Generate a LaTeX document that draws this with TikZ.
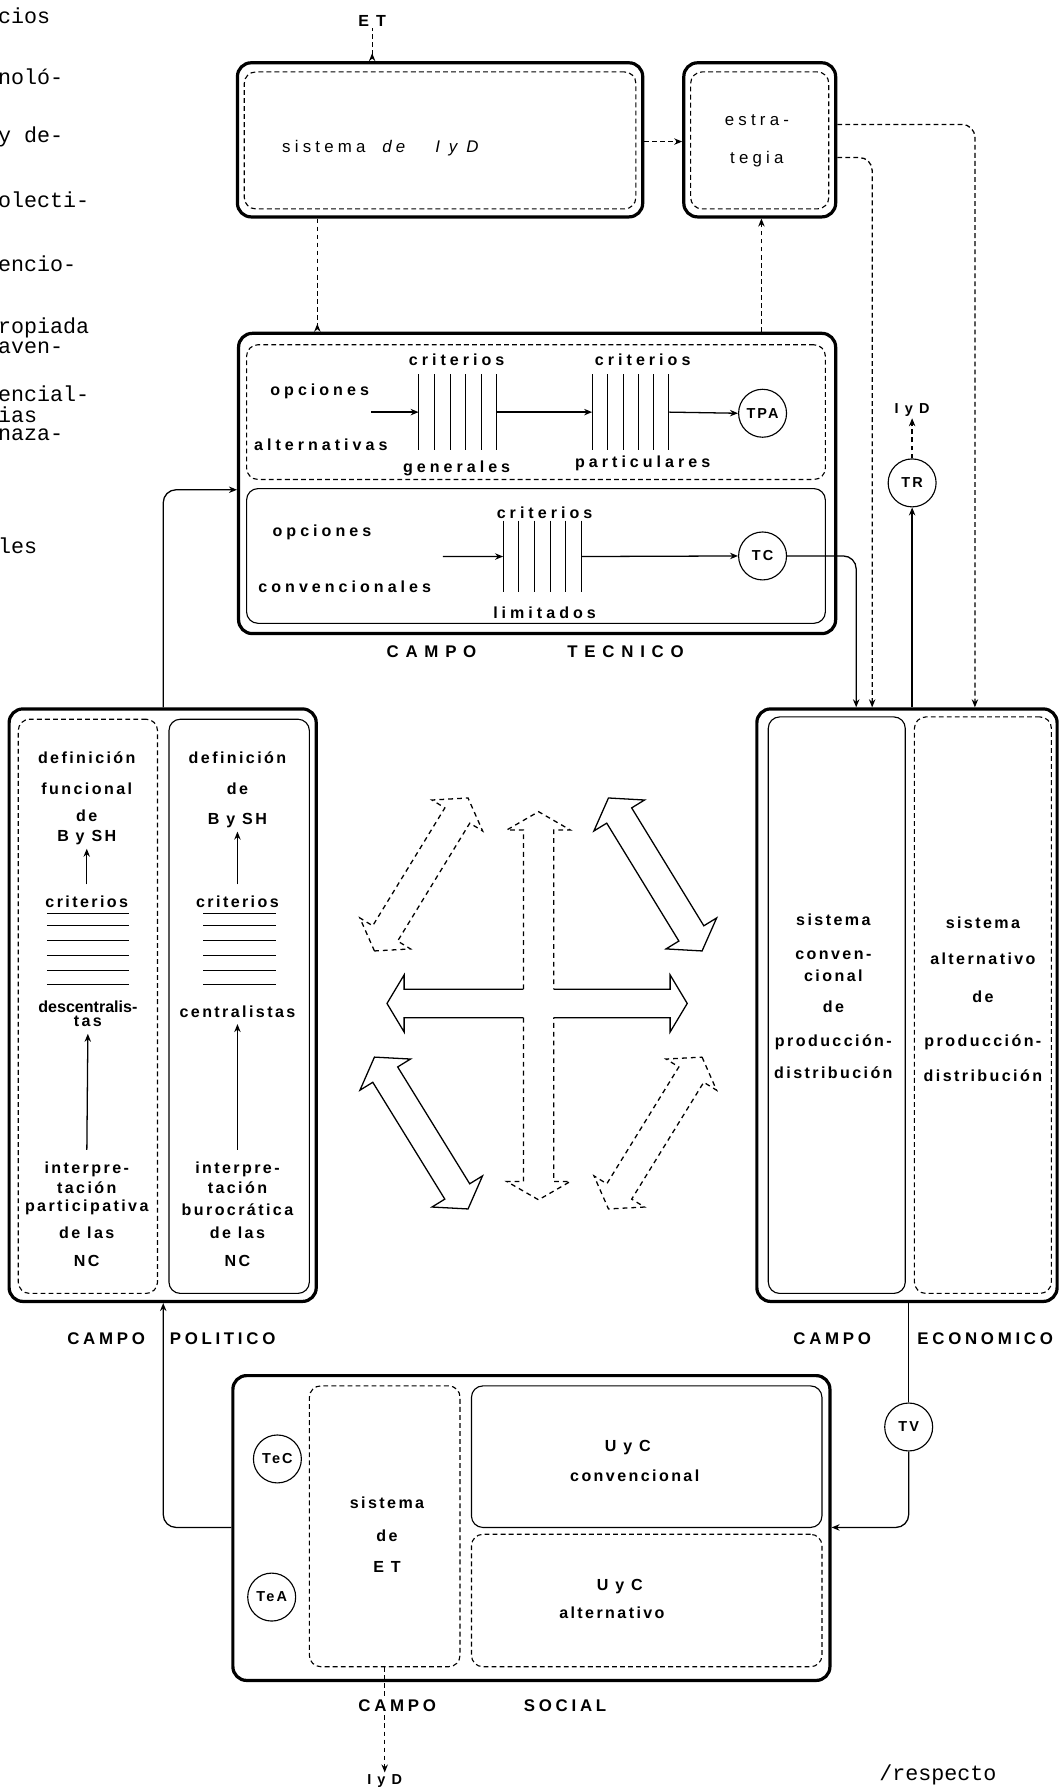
\documentclass[tikz,border=0pt]{standalone}
\usepackage{fontspec}
\setmainfont{Liberation Sans}
\newfontfamily\lblfont[LetterSpace=15]{Liberation Sans}
\newfontfamily\widefont[LetterSpace=25]{Liberation Sans}
\newfontfamily\capsfont[LetterSpace=22]{Liberation Sans}
\newfontfamily\widecaps[LetterSpace=40]{Liberation Sans}
\newfontfamily\typefont{Liberation Mono}
\usetikzlibrary{arrows.meta,calc,fit,positioning}

\tikzset{
  outerbox/.style={draw,line width=2pt,rounded corners=3mm,inner sep=0pt},
  innerbox/.style={draw,line width=.7pt,rounded corners=2.5mm,inner sep=0pt},
  innerdash/.style={innerbox,dash pattern=on 3pt off 2pt},
  sline/.style={line width=.8pt},
  dline/.style={line width=.8pt,dash pattern=on 3pt off 2pt},
  tip/.style={-{Stealth[length=5pt,width=4pt]}},
  lbl/.style={font=\lblfont\bfseries\fontsize{10}{11}\selectfont,inner sep=1pt},
  tlbl/.style={font=\widefont\bfseries\fontsize{10}{11}\selectfont,inner sep=1pt},
  caps/.style={font=\capsfont\bfseries\fontsize{10.5}{12}\selectfont,inner sep=1pt},
  tcaps/.style={font=\widecaps\bfseries\fontsize{10.5}{12}\selectfont,inner sep=1pt},
  circ/.style={draw,circle,line width=.7pt,minimum size=1.05cm,inner sep=0pt,
    font=\lblfont\bfseries\fontsize{9}{10}\selectfont},
  pagetext/.style={font=\typefont\fontsize{13.5}{14}\selectfont,anchor=west,inner sep=0pt},
  bar/.style={line width=.6pt},
  blockarr/.style={line width=.8pt},
  blockdash/.style={line width=.8pt,dash pattern=on 3pt off 2.5pt},
}

% double headed block arrow between two named coordinates
\newcommand{\arrhl}{0.45cm}
\newcommand{\arrhw}{0.65cm}
\newcommand{\arrsw}{0.32cm}
\newcommand{\dblarrow}[3]{%
  \coordinate (da) at ($(#2)!\arrhl!(#3)$);
  \coordinate (db) at ($(#3)!\arrhl!(#2)$);
  \draw[#1] (#2) -- ($(da)!\arrhw!90:(#3)$) -- ($(da)!\arrsw!90:(#3)$)
    -- ($(db)!\arrsw!-90:(#2)$) -- ($(db)!\arrhw!-90:(#2)$) -- (#3)
    -- ($(db)!\arrhw!90:(#2)$) -- ($(db)!\arrsw!90:(#2)$)
    -- ($(da)!\arrsw!-90:(#3)$) -- ($(da)!\arrhw!-90:(#3)$) -- cycle;}

\begin{document}
\begin{tikzpicture}[x=0.025cm,y=-0.025cm]
  \useasboundingbox (0,0) rectangle (928,1568);

  % cut off page text on the left
  \foreach \yy/\ww in {14/cios,67/noló-,120/y de-,175/olecti-,231/encio-,
      287/ropiada,305/aven-,345/encial-,363/ias,381/naza-,478/les}
    \node[pagetext] (pt\yy) at (-2,\yy) {\ww};
  \node[pagetext] (resp) at (770,1555) {/respecto};

  % top: sistema de I y D and estrategia
  \node[outerbox,fit={(208,55) (563,190)}] (sid) {};
  \node[innerdash,fit={(214,63) (557,183)}] (sidin) {};
  \node[font=\widefont\fontsize{10.5}{11}\selectfont] (sidt) at (335,130)
    {sistema\quad\textit{de}\quad\ \textit{I y D}};
  \node[outerbox,fit={(599,55) (732,190)}] (est) {};
  \node[innerdash,fit={(605,63) (726,183)}] (estin) {};
  \node[font=\widefont\fontsize{10.5}{11}\selectfont] (est1) at (663,105) {estra-};
  \node[font=\widefont\fontsize{10.5}{11}\selectfont] (est2) at (663,139) {tegia};
  \node[lbl] (et) at (326,18) {E T};

  % campo tecnico
  \node[outerbox,fit={(209,292) (732,555)}] (tec) {};
  \node[innerdash,fit={(216,302) (723,420)}] (alt) {};
  \node[innerbox,fit={(216,428) (723,546)}] (conv) {};
  \node[tlbl] (op1) at (280,343) {opciones};
  \node[tlbl] (al1) at (281,390) {alternativas};
  \node[tlbl] (cr1) at (400,315) {criterios};
  \node[tlbl] (ge1) at (400,410) {generales};
  \node[tlbl] (cr2) at (563,315) {criterios};
  \node[tlbl] (pa1) at (563,406) {particulares};
  \node[tlbl] (op2) at (282,466) {opciones};
  \node[tlbl] (co2) at (302,514) {convencionales};
  \node[tlbl] (cr3) at (477,449) {criterios};
  \node[tlbl] (li3) at (477,537) {limitados};
  \foreach \i in {0,...,5} {
    \draw[bar] ({367+\i*13.6},328) -- ({367+\i*13.6},394);
    \draw[bar] ({519+\i*13.4},328) -- ({519+\i*13.4},394);
    \draw[bar] ({441+\i*13.6},456) -- ({441+\i*13.6},519);
  }
  \node[inner sep=0pt,fit={(367,328) (435,394)}] (bg1) {};
  \node[inner sep=0pt,fit={(519,328) (586,394)}] (bg2) {};
  \node[inner sep=0pt,fit={(441,456) (509,519)}] (bg3) {};
  \node[circ] (tpa) at (668,362) {TPA};
  \node[circ] (tc) at (668,487) {TC};
  \coordinate (ina) at (325,361);
  \coordinate (inc) at (388,487.5);
  \draw[sline,tip] (ina) -- (bg1.west);
  \draw[sline,tip] (bg1.east) -- (bg2.west);
  \draw[sline,tip] (bg2.east) -- (tpa.west);
  \draw[sline,tip] (inc) -- (bg3.west);
  \draw[sline,tip] (bg3.east) -- (tc.west);
  \node[tcaps] (tecc) at (378,571) {CAMPO};
  \node[tcaps] (tect) at (548,571) {TECNICO};

  % TR
  \node[circ] (tr) at (799,423) {TR};
  \node[lbl,font=\lblfont\bfseries\fontsize{9}{10}\selectfont] (iydt) at (799,359) {I y D};

  % campo politico
  \node[outerbox,fit={(8,621) (277,1140)}] (pol) {};
  \node[innerdash,fit={(16,630) (138,1133)}] (polf) {};
  \node[innerbox,fit={(148,630) (271,1133)}] (polb) {};
  \foreach \yy/\ww in {664/definición,691/funcional,715/de,734/B y SH,790/criterios,
      1024/interpre-,1040/tación,1058/participativa,1080/de las,1105/NC}
    \node[lbl] (pf\yy) at (76,\yy) {\ww};
  \node[lbl,font=\bfseries\fontsize{10}{11}\selectfont] (pf882) at (77,882) {descentralis-};
  \node[lbl] (pf895) at (77,895) {tas};
  \foreach \yy/\ww in {664/definición,691/de,719/B y SH,790/criterios,886/centralistas,
      1024/interpre-,1040/tación,1060/burocrática,1080/de las,1105/NC}
    \node[lbl] (pb\yy) at (208,\yy) {\ww};
  \foreach \yy in {800,811,824,837,850,862} {
    \draw[bar] (41,\yy) -- (113,\yy);
    \draw[bar] (178,\yy) -- (242,\yy);
  }
  \draw[sline,tip,shorten <=6pt,shorten >=1pt] (pf790.north) -- (pf734.south);
  \draw[sline,tip,shorten <=6pt,shorten >=1pt] (pb790.north) -- (pb719.south);
  \draw[sline,tip,shorten <=6pt,shorten >=3pt] (pf1024.north) -- (pf895.south);
  \draw[sline,tip,shorten <=6pt,shorten >=3pt] (pb1024.north) -- (pb886.south);
  \node[caps] (polc) at (93,1173) {CAMPO};
  \node[caps] (polt) at (195,1173) {POLITICO};

  % campo economico
  \node[outerbox,fit={(663,621) (926,1140)}] (eco) {};
  \node[innerbox,fit={(673,628) (793,1133)}] (ecoc) {};
  \node[innerdash,fit={(801,628) (921,1133)}] (ecoa) {};
  \foreach \yy/\ww in {806/sistema,837/conven-,855/cional,882/de,913/producción-,940/distribución}
    \node[lbl] (ec\yy) at (730,\yy) {\ww};
  \foreach \yy/\ww in {808/sistema,840/alternativo,873/de,913/producción-,942/distribución}
    \node[lbl] (ea\yy) at (861,\yy) {\ww};
  \node[caps] (ecoc1) at (729,1173) {CAMPO};
  \node[caps] (ecot) at (863,1173) {ECONOMICO};

  % campo social
  \node[outerbox,fit={(204,1205) (727,1472)}] (soc) {};
  \node[innerdash,fit={(271,1214) (403,1460)}] (set) {};
  \node[innerbox,fit={(413,1214) (720,1338)}] (uyc) {};
  \node[innerdash,fit={(413,1344) (720,1460)}] (uya) {};
  \node[lbl] (set1) at (339,1316) {sistema};
  \node[lbl] (set2) at (339,1345) {de};
  \node[lbl] (set3) at (339,1373) {E T};
  \node[lbl] (uyc1) at (550,1268) {U y C};
  \node[lbl] (uyc2) at (556,1293) {convencional};
  \node[lbl] (uya1) at (543,1390) {U y C};
  \node[lbl] (uya2) at (536,1413) {alternativo};
  \node[circ] (tec1) at (243,1278) {TeC};
  \node[circ] (tea) at (238,1399) {TeA};
  \node[circ] (tv) at (796,1250) {TV};
  \node[lbl,font=\lblfont\bfseries\fontsize{9}{10}\selectfont] (iydb) at (337,1560) {I y D};

  % helper positions for connectors
  \coordinate (xa) at (278,0);
  \coordinate (xb) at (667,0);
  \coordinate (xc) at (143,0);
  \coordinate (xd) at (854,0);
  \coordinate (xe) at (764,0);
  \coordinate (xf) at (750,0);
  \coordinate (ya) at (0,109);
  \coordinate (yb) at (0,138);
  \coordinate (yc) at (0,124);
  \coordinate (yd) at (0,429);
  \coordinate (ye) at (0,1338);

  % connectors
  \draw[dline,{Stealth[length=5pt,width=4pt,reversed]}-] (sid.north -| et) -- (et.south);
  \draw[dline,tip] (sid.east |- yc) -- (est.west |- yc);
  \draw[dline,-{Stealth[length=5pt,width=4pt,reversed]}] (sid.south -| xa) -- (tec.north -| xa);
  \draw[dline,tip] (tec.north -| xb) -- (est.south -| xb);
  \draw[dline,tip,rounded corners=8pt] (est.east |- ya) -| (eco.north -| xd);
  \draw[dline,tip,rounded corners=8pt] (est.east |- yb) -| (eco.north -| xe);
  \draw[sline,tip,rounded corners=8pt] (tc.east) -| (eco.north -| xf);
  \draw[sline,tip] (eco.north -| tr) -- (tr.south);
  \draw[dline,tip] (tr.north) -- (iydt.south);
  \draw[sline,tip,rounded corners=8pt] (pol.north -| xc) |- (tec.west |- yd);
  \draw[sline,tip,rounded corners=8pt] (soc.west |- ye) -| (pol.south -| xc);
  \draw[sline] (eco.south -| tv) -- (tv.north);
  \draw[sline,tip,rounded corners=8pt] (tv.south) |- (soc.east |- ye);
  \draw[dline,tip] (set.south) -- (iydb.north);
  \node[caps,fill=white] (socc) at (348,1494) {CAMPO};
  \node[caps] (soct) at (495,1494) {SOCIAL};

  % interaction arrows in the middle
  \draw[blockarr] (458.5,866.5) -- (354,866.5) -- (354,854) -- (339,879)
    -- (354,904) -- (354,891.5) -- (458.5,891.5);
  \draw[blockarr] (485,866.5) -- (587,866.5) -- (587,854) -- (602,879)
    -- (587,904) -- (587,891.5) -- (485,891.5);
  \draw[blockdash] (458.5,866.5) -- (458.5,727) -- (444,727) -- (471.75,711)
    -- (499.5,727) -- (485,727) -- (485,866.5);
  \draw[blockdash] (458.5,891.5) -- (458.5,1035) -- (444,1035) -- (471.75,1051)
    -- (499.5,1035) -- (485,1035) -- (485,891.5);
  \coordinate (tl1) at (328,833);
  \coordinate (tl2) at (410,699);
  \coordinate (tr1) at (533,699);
  \coordinate (tr2) at (615,833);
  \coordinate (bl1) at (328,926);
  \coordinate (bl2) at (410,1059);
  \coordinate (br1) at (615,926);
  \coordinate (br2) at (533,1059);
  \dblarrow{blockdash}{tl1}{tl2}
  \dblarrow{blockarr}{tr1}{tr2}
  \dblarrow{blockarr}{bl1}{bl2}
  \dblarrow{blockdash}{br1}{br2}
\end{tikzpicture}
\end{document}
